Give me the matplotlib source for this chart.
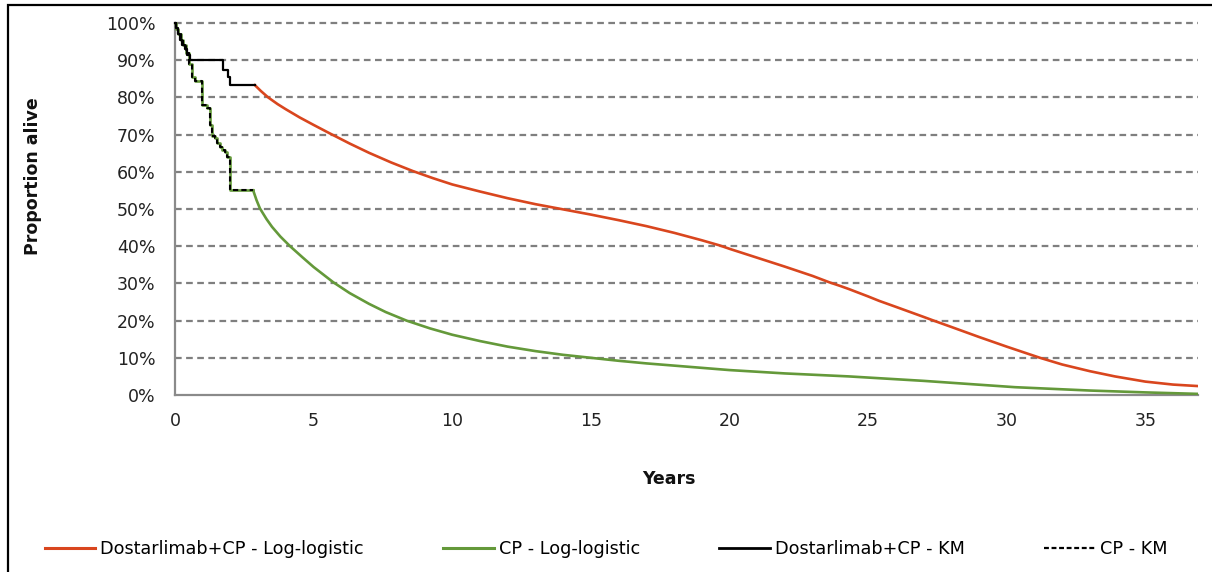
import matplotlib
matplotlib.use("Agg")
import matplotlib.pyplot as plt
from matplotlib.lines import Line2D
from matplotlib.patches import Rectangle

# ---- data (years, % alive) ----
dost_km_t = [0, 0.03, 0.1, 0.18, 0.27, 0.36, 0.45, 0.54, 1.74, 1.92, 1.98, 2.88]
dost_km_s = [100, 98.6, 97, 95.5, 94, 93, 91.5, 90.1, 87.4, 85.5, 83.3, 83.3]

cp_km_t = [0, 0.04, 0.12, 0.2, 0.3, 0.4, 0.5, 0.6, 0.72, 0.96, 1.14, 1.26, 1.32,
           1.44, 1.5, 1.62, 1.68, 1.8, 1.86, 1.98, 2.82]
cp_km_s = [100, 98.5, 97, 95.5, 94, 92, 89, 85.6, 84.5, 78, 77.2, 72.6, 69.5,
           69, 67.7, 66.8, 65.9, 65.4, 64, 55.1, 55.1]

dost_ll_t = [2.88, 3.1, 3.36, 3.7, 4, 4.5, 5, 5.59, 6.3, 7, 7.8, 8.58, 9.3, 10,
             11, 12, 13, 14, 15, 16, 17, 18, 19, 19.65, 20, 21, 22, 23, 23.6,
             24, 24.3, 25, 25.4, 26, 27, 27.4, 28, 29, 30, 31, 31.2, 32, 33,
             33.9, 35, 36, 36.9]
dost_ll_s = [83.3, 81.7, 80, 78.2, 76.8, 74.6, 72.6, 70.3, 67.6, 65.1, 62.5, 60.2,
             58.3, 56.6, 54.7, 52.9, 51.3, 49.9, 48.5, 47.0, 45.4, 43.6, 41.6,
             40.2, 39.3, 36.9, 34.5, 32.0, 30.3, 29.3, 28.5, 26.5, 25.3, 23.7,
             21.0, 19.9, 18.3, 15.6, 13.0, 10.5, 10.0, 8.2, 6.4, 5.0, 3.6, 2.8, 2.4]

cp_ll_t = [2.82, 2.94, 3.06, 3.3, 3.5, 3.8, 4.15, 4.6, 5, 5.71, 6.3, 7, 7.6, 8.35,
           9.2, 10, 11, 12, 13, 14, 15, 16, 17, 18, 19, 20, 22, 24.3, 27, 30.3,
           33, 35, 36.9]
cp_ll_s = [55, 52.4, 50.2, 47.3, 45.2, 42.6, 40, 37, 34.4, 30.3, 27.4, 24.5, 22.3,
           20, 17.9, 16.2, 14.5, 13.0, 11.8, 10.8, 10.0, 9.2, 8.5, 7.9, 7.3, 6.7,
           5.8, 5.0, 3.8, 2.1, 1.2, 0.7, 0.3]

yticks = [0, 10, 20, 30, 40, 50, 60, 70, 80, 90, 100]
xticks = [0, 5, 10, 15, 20, 25, 30, 35]

labels = ["Dostarlimab+CP - Log-logistic", "CP - Log-logistic",
          "Dostarlimab+CP - KM", "CP - KM"]

RED = "#D9461E"
GREEN = "#64993A"
GRID = "#7F7F7F"
AX = "#8A8A8A"

plt.rcParams["font.family"] = ["DejaVu Sans"]

fig = plt.figure(figsize=(12.12, 5.72), dpi=100)
ax = fig.add_axes([175/1212, 1-395/572, (1198-175)/1212, (395-23)/572])

# model curves
ax.plot(dost_ll_t, dost_ll_s, color=RED, lw=1.9, zorder=3)
ax.plot(cp_ll_t, cp_ll_s, color=GREEN, lw=1.9, zorder=3)
# model underlay during KM period
ax.step(cp_km_t, cp_km_s, where="post", color=GREEN, lw=1.9, zorder=3,
        clip_on=False)
# KM curves
ax.step(dost_km_t, dost_km_s, where="post", color="black", lw=1.6, zorder=4,
        clip_on=False)
ax.step(cp_km_t, cp_km_s, where="post", color="black", lw=1.5,
        linestyle=(0, (2.5, 1.5)), zorder=4, clip_on=False)

ax.set_xlim(0, 36.9)
ax.set_ylim(0, 100)
ax.set_xticks(xticks)
ax.set_yticks(yticks)
ax.set_yticklabels([f"{v}%" for v in yticks])
ax.tick_params(axis="both", length=0, labelsize=12.5, colors="#222222")
ax.tick_params(axis="y", pad=14)
ax.tick_params(axis="x", pad=12)

for v in yticks[1:]:
    ax.axhline(v, color=GRID, lw=1.6, linestyle=(0, (3.0, 2.0)), zorder=1,
               clip_on=False)

for s in ["top", "right"]:
    ax.spines[s].set_visible(False)
for s in ["left", "bottom"]:
    ax.spines[s].set_color(AX)
    ax.spines[s].set_linewidth(1.6)

ax.set_ylabel("Proportion alive", fontsize=12.5, fontweight="bold", color="#111111")
ax.yaxis.set_label_coords(-0.130, 0.589)
ax.set_xlabel("Years", fontsize=12.5, fontweight="bold", color="#111111")
ax.xaxis.set_label_coords(0.483, -0.2016)

handles = [Line2D([], [], color=RED, lw=2.2),
           Line2D([], [], color=GREEN, lw=2.2),
           Line2D([], [], color="black", lw=2.0),
           Line2D([], [], color="black", lw=1.6, linestyle=(0, (2.2, 1.2)))]
fig.legend(handles, labels, loc="center", bbox_to_anchor=(0.5, 1-549/572),
           ncol=4, frameon=False, fontsize=12.7, handlelength=2.85,
           handletextpad=0.3, columnspacing=4.5)

fig.add_artist(Rectangle((8/1212, -0.05), 1.2, 1-5/572+0.05,
                         transform=fig.transFigure, fill=False,
                         edgecolor="black", lw=1.6))

fig.savefig("out.png", dpi=100)
